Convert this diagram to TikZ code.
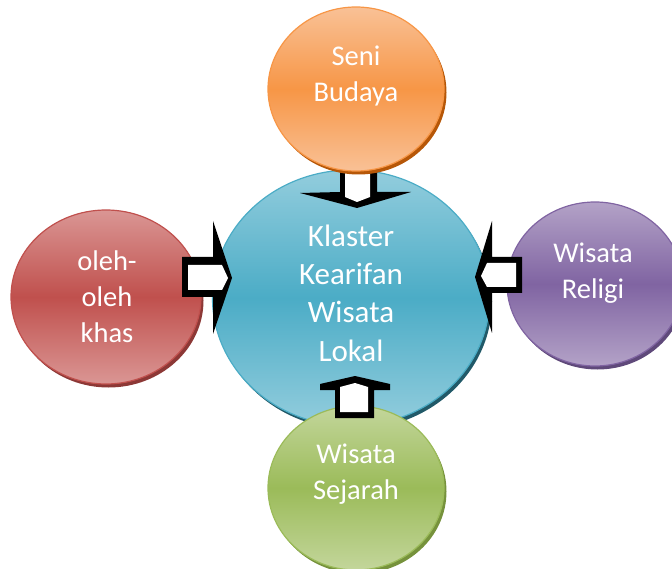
\documentclass[tikz,border=0pt]{standalone}
\usepackage{fontspec}
\setmainfont{Carlito}
\usetikzlibrary{shapes.geometric}
\definecolor{orMain}{HTML}{F79646}\definecolor{orLight}{HTML}{F9C196}\definecolor{orRim}{HTML}{B65708}
\definecolor{blMain}{HTML}{4BACC6}\definecolor{blLight}{HTML}{93CDDD}\definecolor{blRim}{HTML}{215968}
\definecolor{rdMain}{HTML}{C0504D}\definecolor{rdLight}{HTML}{DA9694}\definecolor{rdRim}{HTML}{8C3836}
\definecolor{puMain}{HTML}{8064A2}\definecolor{puLight}{HTML}{B3A2C7}\definecolor{puRim}{HTML}{5F497A}
\definecolor{grMain}{HTML}{9BBB59}\definecolor{grLight}{HTML}{C3D69B}\definecolor{grRim}{HTML}{76923C}
\tikzset{
  bubble/.style n args={3}{ellipse, inner sep=0pt, draw=#1, line width=1.2pt,
    top color=#2, bottom color=#2, middle color=#1,
    preaction={fill=#3, transform canvas={xshift=2.5pt,yshift=-3.5pt}}},
  txt/.style={text=white, align=center, font=\fontsize{28.5}{36}\selectfont},
  bigtxt/.style={text=white, align=center, font=\fontsize{31}{38.3}\selectfont},
  arrowout/.style={fill=black},
  arrowin/.style={fill=white}
}
\begin{document}
\begin{tikzpicture}[x=1pt,y=-1pt]
\useasboundingbox (0,0) rectangle (672,569);
% centre
\node[bubble={blMain}{blLight}{blRim}, minimum width=277pt, minimum height=256pt] (klaster) at (351,298) {};
% satellites
\node[bubble={rdMain}{rdLight}{rdRim}, minimum width=190pt, minimum height=174pt] (oleh) at (106,297) {};
\node[bubble={puMain}{puLight}{puRim}, minimum width=176pt, minimum height=164pt] (religi) at (595,284) {};
\node[bubble={grMain}{grLight}{grRim}, minimum width=176pt, minimum height=164pt] (sejarah) at (356,488) {};
% block arrows
% top (down)
\fill[arrowout] (340,150) -- (340,192) -- (300,193) -- (357,208) -- (411,192) -- (377,192) -- (377,150) -- cycle;
\fill[arrowin] (345,150) -- (345,197) -- (357,202) -- (370,197) -- (370,150) -- cycle;
% bottom (up)
\fill[arrowout] (320,384) -- (355,376) -- (390,384) -- (390,390) -- (374,390) -- (374,418) -- (335,418) -- (335,390) -- (320,390) -- cycle;
\fill[arrowin] (340,412) -- (340,387) -- (355,383) -- (368,387) -- (368,412) -- cycle;
% left (right-pointing)
\fill[arrowout] (182,257) -- (213,257) -- (213,221) -- (232,278) -- (213,334) -- (213,297) -- (182,297) -- cycle;
\fill[arrowin] (188,265) -- (222,265) -- (228,278) -- (222,290) -- (188,290) -- cycle;
% right (left-pointing)
\fill[arrowout] (522,257) -- (492,257) -- (492,221) -- (475,277) -- (492,333) -- (492,293) -- (522,293) -- cycle;
\fill[arrowin] (516,263) -- (487,263) -- (481,276) -- (487,287) -- (516,287) -- cycle;
% top satellite drawn last
\node[bubble={orMain}{orLight}{orRim}, minimum width=176pt, minimum height=164pt] (seni) at (356,89) {};
% texts
\node[bigtxt] (klaster-t) at (351,293) {Klaster\\Kearifan\\Wisata\\Lokal};
\node[txt] (seni-t) at (356,76) {Seni\\Budaya};
\node[txt] (oleh-t) at (107,297) {oleh-\\oleh\\khas};
\node[txt] (religi-t) at (593,273) {Wisata\\Religi};
\node[txt] (sejarah-t) at (356,474) {Wisata\\Sejarah};
\end{tikzpicture}
\end{document}
